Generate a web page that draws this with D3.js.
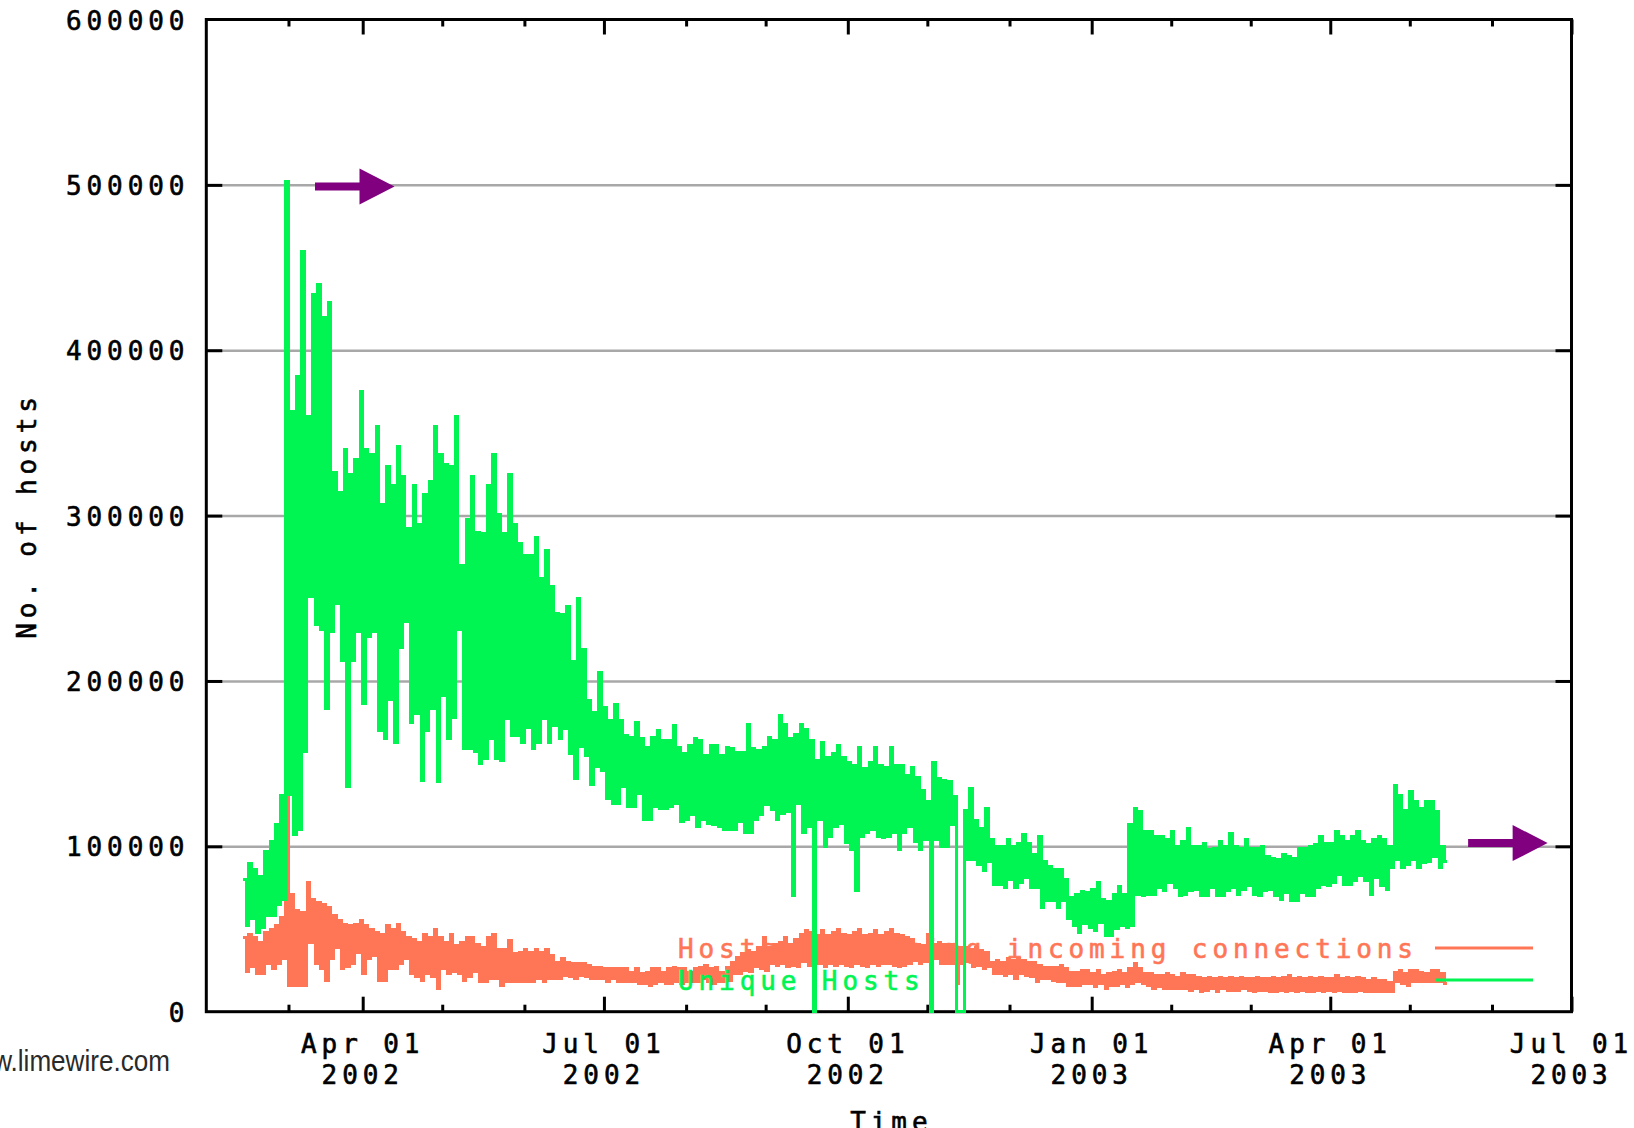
<!DOCTYPE html>
<html>
<head>
<meta charset="utf-8">
<title>Gnutella hosts</title>
<script src="https://cdn.jsdelivr.net/npm/d3@7"></script>
<style>
  body { margin: 0; background: #fff; }
  svg { display: block; }
  .mono { font-family: "DejaVu Sans Mono", monospace; font-size: 26px; letter-spacing: 4.9px; stroke-width: 0.6px; }
</style>
</head>
<body>
<div id="chart"></div>
<script>
// host counts in thousands, one high/low pair per 2-day bucket from startDate
const startDate = "2002-02-15";
const bucketDays = 2;

const uniqueHi = [
  80, 90, 86, 82, 97, 103, 113, 131, 502, 363,
  384, 460, 360, 434, 440, 420, 429, 326, 314, 340,
  325, 334, 375, 340, 337, 354, 307, 330, 318, 342,
  324, 292, 318, 295, 313, 321, 354, 337, 331, 330,
  360, 270, 298, 324, 290, 289, 318, 337, 301, 289,
  325, 295, 283, 276, 276, 287, 262, 279, 257, 241,
  240, 245, 212, 250, 219, 188, 181, 205, 184, 176,
  186, 176, 167, 166, 175, 165, 160, 166, 170, 164,
  164, 173, 160, 156, 161, 165, 164, 155, 161, 161,
  155, 160, 159, 157, 157, 174, 159, 158, 160, 166,
  164, 179, 174, 165, 168, 174, 171, 164, 152, 163,
  154, 156, 161, 154, 151, 149, 160, 147, 151, 160,
  149, 148, 160, 149, 149, 143, 148, 142, 134, 127,
  151, 141, 140, 139, 130, 0, 122, 135, 116, 111,
  123, 104, 100, 100, 104, 100, 102, 107, 102, 95,
  106, 91, 88, 86, 86, 80, 69, 71, 73, 72,
  74, 78, 68, 67, 71, 76, 71, 113, 123, 121,
  109, 109, 106, 106, 104, 109, 100, 103, 111, 100,
  100, 102, 98, 99, 103, 100, 108, 100, 99, 104,
  99, 99, 100, 94, 93, 92, 95, 94, 93, 99,
  99, 100, 101, 106, 102, 102, 109, 106, 103, 106,
  109, 103, 101, 104, 106, 104, 100, 137, 131, 122,
  133, 127, 123, 127, 127, 121, 100
];
const uniqueLo = [
  52, 56, 48, 51, 58, 58, 65, 68, 131, 107,
  110, 157, 251, 234, 231, 183, 230, 247, 212, 136,
  212, 230, 186, 227, 230, 170, 165, 189, 163, 220,
  236, 175, 180, 140, 170, 183, 139, 191, 165, 178,
  231, 159, 159, 157, 150, 153, 165, 153, 152, 177,
  167, 167, 163, 172, 159, 163, 177, 163, 173, 165,
  171, 156, 141, 160, 155, 137, 148, 146, 129, 126,
  126, 136, 124, 124, 132, 116, 116, 124, 123, 123,
  124, 126, 115, 116, 119, 112, 116, 114, 113, 112,
  110, 110, 110, 115, 108, 108, 116, 119, 125, 122,
  116, 120, 121, 70, 126, 108, 112, 0, 116, 100,
  106, 112, 114, 102, 98, 73, 106, 108, 110, 106,
  105, 106, 108, 98, 108, 112, 103, 98, 104, 0,
  104, 100, 100, 113, 0, 0, 92, 92, 89, 85,
  91, 77, 77, 75, 80, 75, 78, 81, 75, 75,
  63, 67, 67, 63, 67, 56, 52, 48, 53, 51,
  49, 54, 46, 46, 50, 52, 51, 52, 71, 70,
  71, 71, 75, 73, 78, 75, 70, 71, 73, 74,
  70, 70, 75, 70, 70, 73, 75, 71, 74, 76,
  71, 70, 73, 74, 70, 68, 72, 67, 67, 72,
  70, 70, 75, 77, 76, 78, 83, 77, 77, 79,
  82, 79, 71, 81, 76, 74, 87, 92, 87, 89,
  92, 87, 90, 91, 94, 87, 91
];
const incomingHi = [
  45, 47, 45, 42, 48, 50, 52, 57, 176, 71,
  61, 60, 78, 68, 66, 65, 63, 58, 55, 53,
  52, 53, 55, 52, 50, 48, 47, 52, 50, 53,
  48, 45, 44, 42, 47, 45, 50, 45, 42, 47,
  40, 42, 45, 45, 41, 39, 45, 47, 38, 38,
  43, 35, 36, 38, 36, 38, 36, 38, 34, 30,
  32, 30, 29, 29, 29, 28, 27, 27, 26, 26,
  26, 26, 26, 24, 26, 23, 24, 26, 26, 24,
  26, 27, 26, 26, 24, 26, 27, 28, 26, 27,
  24, 27, 30, 33, 35, 37, 36, 39, 45, 39,
  41, 42, 45, 41, 44, 47, 49, 48, 46, 49,
  46, 48, 50, 47, 46, 48, 50, 46, 47, 49,
  46, 48, 50, 47, 46, 45, 44, 41, 40, 47,
  41, 42, 41, 41, 41, 39, 39, 38, 39, 37,
  36, 30, 31, 30, 32, 31, 32, 31, 30, 30,
  28, 27, 27, 27, 28, 26, 24, 24, 25, 25,
  23, 25, 22, 23, 24, 25, 23, 26, 29, 26,
  23, 23, 22, 22, 23, 22, 21, 23, 22, 22,
  21, 20, 21, 20, 21, 20, 21, 20, 21, 20,
  20, 21, 20, 20, 21, 20, 21, 22, 20, 21,
  20, 21, 20, 21, 20, 20, 22, 20, 21, 20,
  21, 20, 19, 20, 19, 19, 18, 24, 25, 23,
  25, 25, 24, 23, 25, 25, 23
];
const incomingLo = [
  24, 27, 23, 23, 29, 26, 29, 32, 16, 16,
  16, 16, 42, 29, 26, 19, 32, 39, 26, 27,
  29, 36, 23, 32, 34, 19, 19, 26, 26, 29,
  32, 23, 21, 19, 23, 21, 14, 26, 23, 24,
  23, 19, 21, 24, 18, 18, 20, 20, 16, 18,
  18, 18, 18, 18, 18, 20, 18, 20, 20, 20,
  22, 21, 20, 22, 21, 20, 20, 20, 18, 20,
  18, 18, 18, 18, 17, 17, 16, 17, 18, 17,
  17, 18, 17, 18, 18, 18, 20, 18, 17, 18,
  18, 19, 23, 23, 25, 24, 27, 26, 25, 29,
  28, 29, 27, 28, 27, 30, 28, 29, 29, 27,
  29, 28, 29, 28, 27, 29, 28, 27, 29, 28,
  29, 29, 28, 27, 28, 29, 31, 29, 30, 31,
  32, 29, 29, 29, 17, 29, 30, 27, 28, 26,
  27, 23, 23, 22, 23, 20, 23, 22, 21, 18,
  20, 20, 19, 18, 18, 16, 16, 16, 17, 17,
  15, 17, 14, 16, 16, 17, 15, 17, 18, 17,
  16, 14, 15, 14, 14, 14, 14, 14, 13, 14,
  12, 13, 14, 12, 14, 13, 13, 13, 14, 13,
  12, 13, 13, 12, 12, 13, 12, 13, 12, 13,
  12, 12, 13, 12, 13, 12, 13, 12, 12, 12,
  13, 12, 12, 12, 12, 12, 12, 18, 17, 16,
  18, 18, 18, 18, 18, 18, 17
];

const yTickValues = [0, 100000, 200000, 300000, 400000, 500000, 600000];
const xMajorTicks = ["2002-04-01", "2002-07-01", "2002-10-01", "2003-01-01", "2003-04-01", "2003-07-01"];
const xMinorTicks = ["2002-03-04", "2002-05-01", "2002-06-01", "2002-08-01", "2002-08-31", "2002-10-31",
  "2002-12-01", "2003-01-31", "2003-03-02", "2003-05-01", "2003-06-01"];
const arrowSpecs = [
  { from: "2002-03-14", to: "2002-04-13", value: 499000 },
  { from: "2003-05-23", to: "2003-06-22", value: 102000 }
];
const seriesNames = ["Hosts accepting incoming connections", "Unique Hosts"];

const width = 1634, height = 1128;
const plot = { left: 206.3, right: 1571.5, top: 19.5, bottom: 1011.7 };
const green = "#00f452";
const salmon = "#ff7657";
const purple = "#800080";
const ls = 4.9; // letter spacing of the mono labels

const parseDate = d3.utcParse("%Y-%m-%d");
const fmtDay = d3.utcFormat("%b %d");
const fmtYear = d3.utcFormat("%Y");

const x = d3.scaleUtc()
  .domain([parseDate("2002-02-01"), parseDate("2003-07-01")])
  .range([plot.left, plot.right]);
const y = d3.scaleLinear().domain([0, 600000]).range([plot.bottom, plot.top]);

const svg = d3.select("#chart").append("svg")
  .attr("width", width)
  .attr("height", height);

svg.append("rect").attr("width", width).attr("height", height).attr("fill", "#fff");

// grid
const grid = svg.append("g")
  .attr("transform", `translate(${plot.left},0)`)
  .call(d3.axisLeft(y).tickValues(yTickValues.slice(1, -1))
    .tickSize(-(plot.right - plot.left)).tickFormat(""));
grid.select(".domain").remove();
grid.selectAll("line").attr("stroke", "#a8a8a8").attr("stroke-width", 2.5);

function styleTicks(g) {
  g.select(".domain").remove();
  g.selectAll("line").attr("stroke", "#000").attr("stroke-width", 3);
}

// border
svg.append("rect")
  .attr("x", plot.left).attr("y", plot.top)
  .attr("width", plot.right - plot.left).attr("height", plot.bottom - plot.top)
  .attr("fill", "none").attr("stroke", "#000").attr("stroke-width", 3);

const majorDates = xMajorTicks.map(parseDate);
const minorDates = xMinorTicks.map(parseDate);

svg.append("g").attr("transform", `translate(0,${plot.bottom})`)
  .call(d3.axisBottom(x).tickValues(majorDates).tickSize(-15).tickFormat("")).call(styleTicks);
svg.append("g").attr("transform", `translate(0,${plot.bottom})`)
  .call(d3.axisBottom(x).tickValues(minorDates).tickSize(-7).tickFormat("")).call(styleTicks);
svg.append("g").attr("transform", `translate(0,${plot.top})`)
  .call(d3.axisTop(x).tickValues(majorDates).tickSize(-15).tickFormat("")).call(styleTicks);
svg.append("g").attr("transform", `translate(0,${plot.top})`)
  .call(d3.axisTop(x).tickValues(minorDates).tickSize(-7).tickFormat("")).call(styleTicks);

const yAxis = svg.append("g").attr("transform", `translate(${plot.left},0)`)
  .call(d3.axisLeft(y).tickValues(yTickValues).tickSize(-16).tickPadding(17).tickFormat(d3.format("d")))
  .call(styleTicks);
yAxis.selectAll("line").filter(d => d === 0 || d === 600000).remove();
yAxis.attr("font-family", null).attr("font-size", null);
yAxis.selectAll("text")
  .attr("class", "mono")
  .attr("fill", "#000")
  .attr("stroke", "#000")
  .attr("dy", 9.6);

svg.append("g").attr("transform", `translate(${plot.right},0)`)
  .call(d3.axisRight(y).tickValues(yTickValues.slice(1, -1)).tickSize(-16).tickFormat(""))
  .call(styleTicks);

// x tick labels, two lines
const xLabels = svg.append("g").attr("class", "mono")
  .attr("text-anchor", "middle").attr("fill", "#000").attr("stroke", "#000");
majorDates.forEach(d => {
  xLabels.append("text").attr("x", x(d)).attr("y", 1053).text(fmtDay(d));
  xLabels.append("text").attr("x", x(d)).attr("y", 1084).text(fmtYear(d));
});

svg.append("text").attr("class", "mono")
  .attr("text-anchor", "middle").attr("stroke", "#000")
  .attr("x", (plot.left + plot.right) / 2 + ls / 2).attr("y", 1131)
  .text("Time");

svg.append("text").attr("class", "mono")
  .attr("text-anchor", "middle").attr("stroke", "#000")
  .attr("transform", "translate(26,518) rotate(-90)")
  .attr("x", ls / 2).attr("y", 10)
  .text("No. of hosts");

svg.append("text")
  .attr("transform", "translate(170,1071) scale(0.9,1)")
  .attr("text-anchor", "end")
  .attr("font-family", "'Liberation Sans', Arial, sans-serif")
  .attr("font-size", 29)
  .attr("fill", "#2a2a2a")
  .text("www.limewire.com");

// data
const t0 = parseDate(startDate);
function seriesPoints(hi, lo) {
  const pts = [];
  hi.forEach((h, i) => {
    const d0 = d3.utcDay.offset(t0, i * bucketDays);
    pts.push([d0, h * 1000]);
    pts.push([d3.utcDay.offset(d0, bucketDays / 2), lo[i] * 1000]);
  });
  pts.push([d3.utcDay.offset(t0, hi.length * bucketDays), lo[lo.length - 1] * 1000]);
  return pts;
}

const line = d3.line()
  .x(d => x(d[0]))
  .y(d => y(d[1]))
  .curve(d3.curveStepAfter);

const series = [
  { name: seriesNames[0], color: salmon, points: seriesPoints(incomingHi, incomingLo) },
  { name: seriesNames[1], color: green, points: seriesPoints(uniqueHi, uniqueLo) }
];

series.forEach((s, i) => {
  const ky = 948 + i * 32;
  svg.append("text").attr("class", "mono")
    .attr("x", 678).attr("y", ky + 9.6)
    .attr("fill", s.color)
    .attr("stroke", s.color)
    .text(s.name);
  svg.append("line")
    .attr("x1", 1435).attr("x2", 1533)
    .attr("y1", ky).attr("y2", ky)
    .attr("stroke", s.color).attr("stroke-width", 3);
  svg.append("path")
    .attr("d", line(s.points))
    .attr("fill", "none")
    .attr("stroke", s.color)
    .attr("stroke-width", 2.7)
    .attr("shape-rendering", "crispEdges");
});

// arrows
arrowSpecs.forEach(a => {
  const x0 = x(parseDate(a.from));
  const x1 = x(parseDate(a.to));
  const ay = y(a.value);
  const headLen = 35, headHalf = 18;
  svg.append("line")
    .attr("x1", x0).attr("x2", x1 - headLen + 1)
    .attr("y1", ay).attr("y2", ay)
    .attr("stroke", purple).attr("stroke-width", 8);
  svg.append("path")
    .attr("d", `M${x1},${ay}L${x1 - headLen},${ay - headHalf}L${x1 - headLen},${ay + headHalf}Z`)
    .attr("fill", purple);
});
</script>
</body>
</html>
